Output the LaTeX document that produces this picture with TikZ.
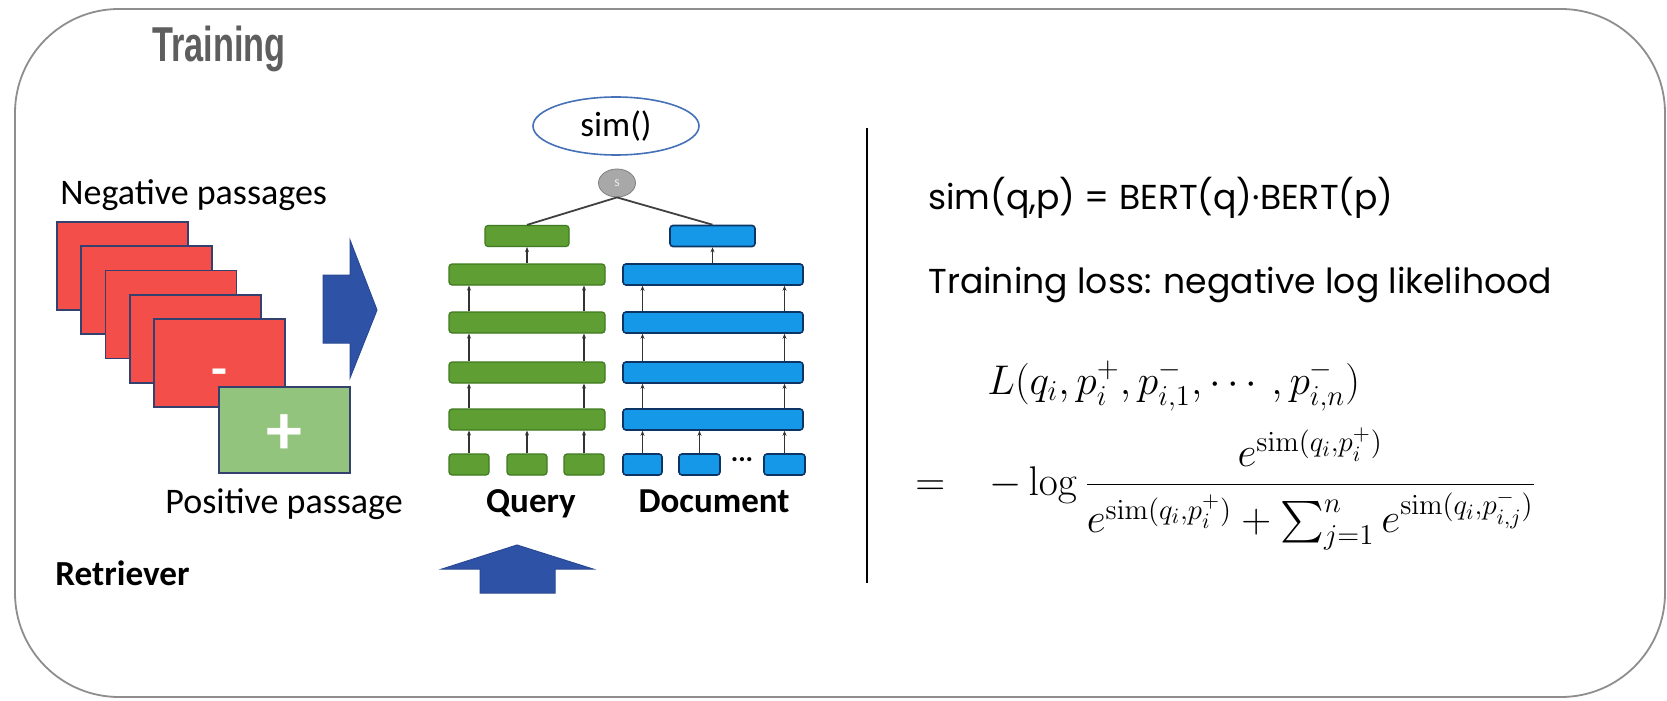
\documentclass[tikz,border=0pt]{standalone}
\usepackage{amsmath}
\usepackage[no-math]{fontspec}
\setmainfont{Carlito}
\newfontfamily\titlefont[FakeStretch=0.70]{Liberation Sans}
\newfontfamily\geofont{Poppins}
\usetikzlibrary{shapes.geometric,arrows.meta}

\definecolor{cardred}{HTML}{F44E4B}
\definecolor{cardedge}{HTML}{34406E}
\definecolor{cardgreen}{HTML}{93C47D}
\definecolor{qgreen}{HTML}{5E9E33}
\definecolor{qgreenedge}{HTML}{3F7A20}
\definecolor{dblue}{HTML}{1598E8}
\definecolor{dblueedge}{HTML}{0C3566}
\definecolor{arrowblue}{HTML}{2E53A6}
\definecolor{arrowedge}{HTML}{2A4894}
\definecolor{framegray}{HTML}{8E8E8E}
\definecolor{titlegray}{HTML}{5E5E5E}
\definecolor{ovalblue}{HTML}{4670B8}
\definecolor{poolgray}{HTML}{A8A8A8}

\tikzset{
  card/.style={draw=cardedge, line width=0.8pt, fill=cardred, minimum width=65.5pt,
    minimum height=44pt, inner sep=0pt},
  poscard/.style={card, fill=cardgreen, minimum height=43pt},
  sign/.style={inner sep=0pt, text=white, font=\bfseries\fontsize{#1}{#1}\selectfont},
  gbar/.style={draw=qgreenedge, fill=qgreen, line width=0.6pt, rounded corners=1.5pt,
    minimum height=10.5pt, inner sep=0pt},
  dbar/.style={draw=dblueedge, fill=dblue, line width=0.8pt, rounded corners=1.5pt,
    minimum height=10.5pt, inner sep=0pt},
  conn/.style={draw=black!80, line width=0.6pt, -{Stealth[length=2.5pt,width=2pt]}},
  link/.style={draw=black!75, line width=0.9pt},
  fatarrow/.style={fill=arrowblue, draw=arrowedge, line width=0.5pt},
  lbl/.style={inner sep=0pt, font=\fontsize{18}{21}\selectfont},
  geo/.style={inner sep=0pt, anchor=base west, font=\geofont\fontsize{17.3}{20}\selectfont},
  mathtxt/.style={anchor=base west, inner sep=0pt, font=\fontsize{21.5}{26}\selectfont},
}

\begin{document}
\begin{tikzpicture}[x=0.5pt, y=-0.5pt]
  \useasboundingbox (0,0) rectangle (1667,701);
  \fill[white] (0,0) rectangle (1667,701);

  % outer frame
  \draw[framegray, line width=0.9pt, rounded corners=52pt] (15,9) rectangle (1665,697);

  % title
  \node[anchor=base west, inner sep=0pt, text=titlegray,
        font=\titlefont\bfseries\fontsize{24.5}{28}\selectfont] (title) at (152,62) {Training};

  % ---------- passages ----------
  \node[lbl, anchor=base west] (neglbl) at (60,205) {Negative passages};
  \foreach \k in {0,...,4}
    \node[card] (n\k) at ({122.5+24.25*\k},{266+24.25*\k}) {};
  \node[sign=26] (minus) at (219,378) {-};
  \node[poscard] (pos) at (284.5,430) {};
  \node[sign=36] (plus) at (284.5,435) {+};
  \node[lbl, anchor=base west] (poslbl) at (165,513) {Positive passage};
  \node[lbl, anchor=base west, font=\bfseries\fontsize{17.6}{20}\selectfont] (retr) at (55,585) {Retriever};

  % block arrow into the encoders
  \draw[fatarrow] (323,275) -- (350,275) -- (350,240) -- (377,310) -- (350,378)
        -- (350,343) -- (323,343) -- cycle;

  % ---------- similarity ----------
  \node[ellipse, draw=ovalblue, line width=0.8pt, minimum width=83pt, minimum height=29pt,
        inner sep=0pt, font=\fontsize{17.6}{20}\selectfont] (sim) at (616,126) {sim()};
  \node[ellipse, draw=gray, fill=poolgray, minimum width=18.5pt, minimum height=14pt,
        inner sep=0pt, text=white!85!gray, font=\fontsize{7}{8}\selectfont] (s) at (617,183) {s};

  % ---------- query encoder ----------
  \node[gbar, minimum width=42pt] (gt) at (527,236) {};
  \node[gbar, minimum width=78pt] (g1) at (527,274.5) {};
  \node[gbar, minimum width=78pt] (g2) at (527,322.5) {};
  \node[gbar, minimum width=78pt] (g3) at (527,372.5) {};
  \node[gbar, minimum width=78pt] (g4) at (527,419.5) {};
  \node[gbar, minimum width=20pt] (gs1) at (469,464.5) {};
  \node[gbar, minimum width=20pt] (gs2) at (527,464.5) {};
  \node[gbar, minimum width=20pt] (gs3) at (584,464.5) {};

  % ---------- document encoder ----------
  \node[dbar, minimum width=42.5pt] (bt) at (712.5,236) {};
  \node[dbar, minimum width=90pt] (b1) at (713,274.5) {};
  \node[dbar, minimum width=90pt] (b2) at (713,322.5) {};
  \node[dbar, minimum width=90pt] (b3) at (713,372.5) {};
  \node[dbar, minimum width=90pt] (b4) at (713,419.5) {};
  \node[dbar, minimum width=19.5pt] (bs1) at (642.5,464.5) {};
  \node[dbar, minimum width=20.5pt] (bs2) at (699.5,464.5) {};
  \node[dbar, minimum width=20.5pt] (bs3) at (784.5,464.5) {};
  \node[inner sep=0pt, font=\bfseries\fontsize{14}{14}\selectfont] (dots) at (742,460) {...};

  % layer-to-layer connections
  \foreach \c in {gs1,gs3}{
    \draw[conn] (\c.north) -- (\c.north |- g4.south);
    \draw[conn] (\c.north |- g4.north) -- (\c.north |- g3.south);
    \draw[conn] (\c.north |- g3.north) -- (\c.north |- g2.south);
    \draw[conn] (\c.north |- g2.north) -- (\c.north |- g1.south);
  }
  \draw[conn] (gs2.north) -- (gs2.north |- g4.south);
  \draw[conn] (g1.north) -- (gt.south);
  \foreach \c in {bs1,bs3}{
    \draw[conn] (\c.north) -- (\c.north |- b4.south);
    \draw[conn] (\c.north |- b4.north) -- (\c.north |- b3.south);
    \draw[conn] (\c.north |- b3.north) -- (\c.north |- b2.south);
    \draw[conn] (\c.north |- b2.north) -- (\c.north |- b1.south);
  }
  \draw[conn] (bs2.north) -- (bs2.north |- b4.south);
  \draw[conn] (b1.north -| bt) -- (bt.south);

  % pooled outputs to similarity
  \draw[link] (s.south) -- (gt.north);
  \draw[link] (s.south) -- (bt.north);

  \node[anchor=base, inner sep=0pt, font=\bfseries\fontsize{17.5}{20}\selectfont] (qlbl) at (531,512) {Query};
  \node[anchor=base, inner sep=0pt, font=\bfseries\fontsize{17.5}{20}\selectfont] (dlbl) at (714,512) {Document};

  % block arrow from below
  \draw[fatarrow] (480,593) -- (480,569) -- (442,569) -- (517,545) -- (593,569)
        -- (555,569) -- (555,593) -- cycle;

  % divider
  \draw[black, line width=1pt] (867,128) -- (867,583);

  % ---------- formulas ----------
  \node[geo] (simdef) at (928,210) {sim(q,p) = BERT(q)·BERT(p)};
  \node[geo] (losslbl) at (928,293) {Training loss: negative log likelihood};
  \node[mathtxt] (lhs) at (987,394)
    {$L(q_i,p_i^+,p_{i,1}^-,\cdots,p_{i,n}^-)$};
  \node[mathtxt] (eq) at (915,495) {$=$};
  \node[mathtxt] (rhs) at (989,495)
    {$\displaystyle -\log\frac{e^{\mathrm{sim}(q_i,p_i^+)}}{e^{\mathrm{sim}(q_i,p_i^+)}+\sum_{j=1}^{n}e^{\mathrm{sim}(q_i,p_{i,j}^-)}}$};
\end{tikzpicture}
\end{document}
